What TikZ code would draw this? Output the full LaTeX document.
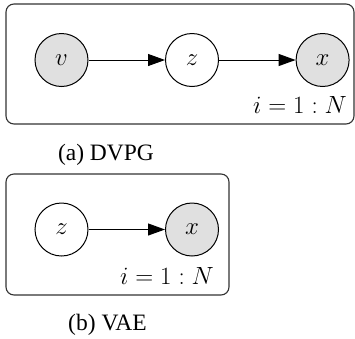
\documentclass[tikz,border=0pt]{standalone}
\usepackage{fontspec}
\setmainfont{Liberation Serif}
\usetikzlibrary{arrows.meta}
\begin{document}
\begin{tikzpicture}[x=1pt,y=-1pt,
  var/.style={circle,draw=black,line width=1pt,minimum size=53pt,inner sep=0pt,font=\fontsize{28}{32}\selectfont},
  obs/.style={var,fill=black!12},
  plate/.style={draw=black!80,line width=1.1pt,rounded corners=8pt},
  edge/.style={line width=1pt,-{Triangle[length=17pt,width=12pt]}},
  platelabel/.style={inner sep=0pt,font=\fontsize{26}{30}\selectfont},
  caption/.style={inner sep=0pt,font=\fontsize{23.5}{28}\selectfont}]
\useasboundingbox (0,0) rectangle (355,338);
% (a) DVPG
\draw[plate] (6,4) rectangle (354,124);
\node[obs] (v1) at (61.5,60) {$v$};
\node[var] (z1) at (192,60) {$z$};
\node[obs] (x1) at (322.6,60) {$x$};
\draw[edge] (v1) -- (z1);
\draw[edge] (z1) -- (x1);
\node[platelabel,anchor=base east] (l1) at (347,113) {$i=1:N$};
\node[caption,anchor=base] (c1) at (106,160) {(a) DVPG};
% (b) VAE
\draw[plate] (6,174) rectangle (229,295);
\node[var] (z2) at (61.5,229.5) {$z$};
\node[obs] (x2) at (192,229.5) {$x$};
\draw[edge] (z2) -- (x2);
\node[platelabel,anchor=base east] (l2) at (214,284) {$i=1:N$};
\node[caption,anchor=base] (c2) at (107.5,330) {(b) VAE};
\end{tikzpicture}
\end{document}
